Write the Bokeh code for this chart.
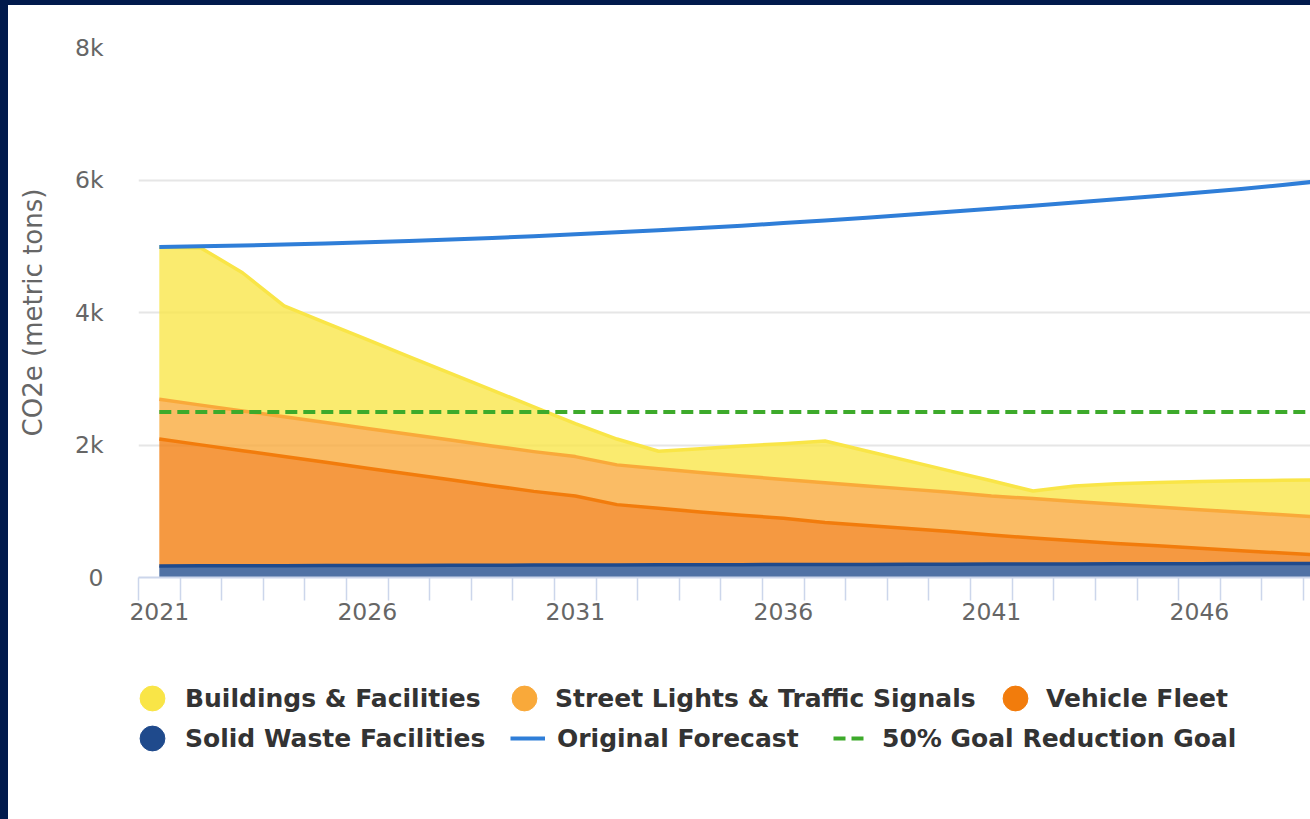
from bokeh.plotting import figure
from bokeh.models import (ColumnDataSource, FixedTicker, Legend, LegendItem, Div)
from bokeh.layouts import column, row
from bokeh.embed import file_html
from bokeh.resources import INLINE

# ---------------- data ----------------
years = list(range(2021, 2051))
buildings = [2300, 2373, 2086, 1674, 1507, 1340, 1173, 1006, 844, 675,
             497, 390, 262, 359, 452, 540, 630, 528, 426, 323,
             230, 114, 232, 310, 370, 426, 475, 521, 566, 610]
street_lights = [600, 600, 600, 600, 600, 600, 600, 600, 600, 600,
                 595, 600, 598, 596, 593, 585, 600, 597, 594, 592,
                 590, 596, 593, 590, 587, 584, 580, 576, 573, 570]
vehicle_fleet = [1915, 1826, 1736, 1647, 1558, 1468, 1379, 1290, 1200, 1113,
                 1042, 910, 854, 798, 746, 700, 634, 587, 541, 495,
                 438, 392, 351, 309, 271, 232, 195, 159, 123, 86]
solid_waste = [175, 176, 178, 179, 180, 182, 183, 184, 186, 187,
               188, 190, 191, 192, 194, 195, 196, 198, 199, 200,
               202, 203, 204, 206, 207, 208, 210, 211, 212, 214]
original_forecast = [4990, 5000, 5012, 5025, 5040, 5060, 5080, 5102, 5125, 5150,
                     5180, 5210, 5240, 5275, 5310, 5350, 5390, 5430, 5475, 5520,
                     5565, 5612, 5660, 5710, 5760, 5810, 5865, 5925, 5990, 6055]
goal = [2500, 2500, 2500, 2500, 2500, 2500, 2500, 2500, 2500, 2500,
        2500, 2500, 2500, 2500, 2500, 2500, 2500, 2500, 2500, 2500,
        2500, 2500, 2500, 2500, 2500, 2500, 2500, 2500, 2500, 2500]

y_ticks = [0, 2000, 4000, 6000, 8000]
y_tick_labels = ["0", "2k", "4k", "6k", "8k"]
x_label_years = years[::5]

series_names = ["Buildings & Facilities", "Street Lights & Traffic Signals",
                "Vehicle Fleet", "Solid Waste Facilities"]
series_colors = ["#f9e547", "#f9a93a", "#f27c0c", "#1f4a8c"]
forecast_color = "#2f7ed8"
goal_color = "#3daa2b"

NAVY = "#011a4c"
FONT = "DejaVu Sans"

src = ColumnDataSource(dict(year=years, bld=buildings, sl=street_lights,
                            vf=vehicle_fleet, sw=solid_waste,
                            of=original_forecast, goal=goal))

p = figure(width=1302, height=650, output_backend="svg", toolbar_location=None,
           x_range=(2020.5, 2048.67), y_range=(0, 8000),
           min_border_left=130, min_border_right=0, min_border_top=42,
           min_border_bottom=78)
p.outline_line_color = None
p.background_fill_color = "white"
p.border_fill_color = "white"

# stacked areas (bottom to top)
stackers = ["sw", "vf", "sl", "bld"]
stack_colors = [series_colors[3], series_colors[2], series_colors[1], series_colors[0]]
p.varea_stack(stackers, x="year", source=src, fill_color=stack_colors, fill_alpha=0.78)
p.vline_stack(stackers, x="year", source=src, line_color=stack_colors, line_width=3.5,
              line_join="round")

p.line("year", "of", source=src, line_color=forecast_color, line_width=4,
       line_join="round")
p.line("year", "goal", source=src, line_color=goal_color, line_width=4,
       line_dash="12 6")

# axes
xa = p.xaxis[0]
xa.ticker = FixedTicker(ticks=x_label_years,
                        minor_ticks=[y - 0.5 for y in years] + [years[-1] + 0.5])
xa.axis_line_color = "#ccd6eb"
xa.axis_line_width = 2
xa.major_tick_line_color = None
xa.major_tick_out = 0
xa.major_tick_in = 0
xa.minor_tick_line_color = "#ccd6eb"
xa.minor_tick_line_width = 1.5
xa.minor_tick_out = 23
xa.minor_tick_in = 0
xa.major_label_text_font = FONT
xa.major_label_text_font_size = "23.5px"
xa.major_label_text_color = "#666666"
xa.major_label_standoff = 2

ya = p.yaxis[0]
ya.ticker = FixedTicker(ticks=y_ticks)
ya.major_label_overrides = {t: l for t, l in zip(y_ticks, y_tick_labels)}
ya.axis_line_color = None
ya.major_tick_line_color = None
ya.minor_tick_line_color = None
ya.major_tick_out = 0
ya.major_tick_in = 0
ya.major_label_standoff = 35
ya.major_label_text_font = FONT
ya.major_label_text_font_size = "23.5px"
ya.major_label_text_color = "#666666"
ya.axis_label = "CO2e (metric tons)"
ya.axis_label_text_font = FONT
ya.axis_label_text_font_size = "26px"
ya.axis_label_text_font_style = "normal"
ya.axis_label_text_color = "#666666"
ya.axis_label_standoff = 24

p.xgrid.grid_line_color = None
p.ygrid.ticker = FixedTicker(ticks=y_ticks)
p.ygrid.grid_line_color = "#e6e6e6"
p.ygrid.grid_line_width = 2

# ---------------- legend panel ----------------
lp = figure(width=1302, height=164, output_backend="svg", toolbar_location=None,
            x_range=(0, 1), y_range=(0, 1), x_axis_type=None, y_axis_type=None,
            min_border=0)
lp.outline_line_color = None
lp.grid.visible = False
lp.border_fill_color = "white"

NAN = float("nan")
dots = [lp.scatter(x=[NAN], y=[NAN], size=25, color=c, marker="circle")
        for c in series_colors]
of_key = lp.line(x=[NAN, NAN], y=[NAN, NAN], line_color=forecast_color, line_width=4)
goal_key = lp.line(x=[NAN, NAN], y=[NAN, NAN], line_color=goal_color, line_width=4,
                   line_dash="12 6")

# the legend panel's frame is aligned with the chart frame (left border 130)
def add_legend(label, renderer, vx, vy, gw, gh, standoff):
    lg = Legend(items=[LegendItem(label=label, renderers=[renderer])],
                location=(vx, vy), orientation="horizontal",
                glyph_width=gw, glyph_height=gh, label_standoff=standoff,
                padding=0, margin=0, spacing=0,
                border_line_color=None, background_fill_alpha=0,
                label_text_font=FONT, label_text_font_style="bold",
                label_text_font_size="25px", label_text_color="#333333",
                label_text_baseline="middle")
    lp.add_layout(lg, "center")

add_legend(series_names[0], dots[0], -17, 90, 62, 62, 2)
add_legend(series_names[1], dots[1], 355, 90, 62, 62, 0)
add_legend(series_names[2], dots[2], 846, 90, 62, 62, 0)
add_legend(series_names[3], dots[3], -17, 50, 62, 62, 2)
add_legend("Original Forecast", of_key, 372, 50, 35, 62, 12)
add_legend("50% Goal Reduction Goal", goal_key, 695, 50, 32, 62, 17)

top_bar = Div(width=1310, height=5, margin=(0, 0, 0, 0),
              styles={"background-color": NAVY})
left_bar = Div(width=8, height=814, margin=(0, 0, 0, 0),
               styles={"background-color": NAVY})
layout = column(top_bar, row(left_bar, column(p, lp, spacing=0), spacing=0), spacing=0)

open("out.html", "w").write(file_html(layout, INLINE))
